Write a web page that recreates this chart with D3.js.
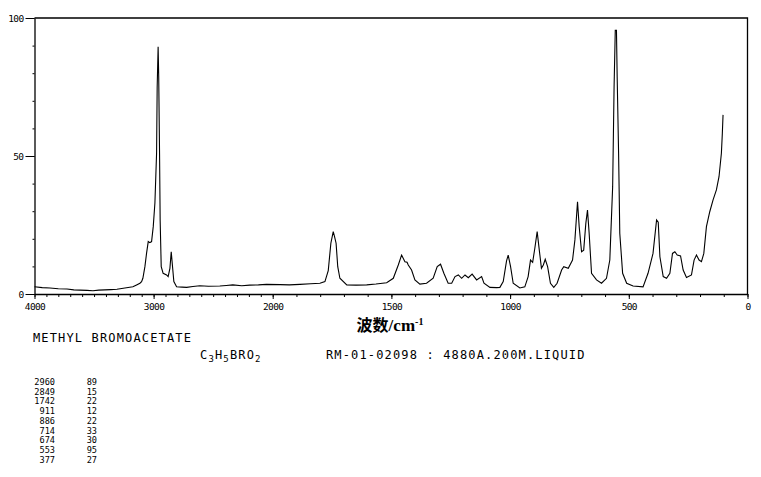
<!DOCTYPE html>
<html><head><meta charset="utf-8">
<script src="https://cdn.jsdelivr.net/npm/d3@7"></script>
<style>
html,body{margin:0;padding:0;background:#fff;}
svg{display:block;}
.mono{font-family:"DejaVu Sans Mono",monospace;fill:#000;}
</style></head>
<body><svg id="c" width="761" height="477"></svg>
<script>
// Spectrum trace (wavenumber cm-1, relative intensity)
const wavenumbers = [4000,3935,3870,3800,3727,3670,3618,3560,3509,3460,3409,3360,3308,3241,3174,3143,3115,3101,3090,3073,3059,3045,3031,3017,3003,2989,2975,2970,2962,2957,2950,2945,2936,2920,2891,2878,2863,2852,2841,2830,2807,2760,2723,2670,2612,2540,2444,2390,2335,2260,2193,2120,2052,
1969,1930,1885,1840,1801,1780,1766,1755,1745,1740,1733,1726,1717,1688,1649,1604,1565,1520,1492,1471,1457,1443,1434,1429,1415,1401,1380,1352,1324,1307,1293,1279,1261,1246,1232,1218,1204,1190,1176,1160,1141,1120,1110,1085,1057,1043,1029,1015,1008,998,987,959,938,924,914,905,896,886,877,868,860,852,842,830,816,802,783,774,755,737,727,716,709,699,690,681,674,667,657,636,615,594,580,568,562,557,552,549,543,538,526,509,482,440,419,398,383,376,369,355,341,327,316,306,296,282,271,257,236,225,215,204,194,184,173,159,145,131,120,110,106,103];
const intensities = [2.6,2.3,2.2,1.9,1.8,1.5,1.4,1.3,1.2,1.4,1.5,1.6,1.7,2.2,2.6,3.3,3.9,4.5,5.7,9.9,14.8,19,18.6,19,24.4,33,51,75,89.6,78.5,51,26.8,9.9,7.5,6.9,6.3,9.3,15.3,9.9,4.5,2.6,2.5,2.4,2.7,3.0,2.8,2.9,3.1,3.3,3.0,3.2,3.3,3.5,
3.4,3.3,3.5,3.7,3.9,4.5,8.5,18.4,22.6,21,18.4,9.9,5.7,3.3,3.2,3.3,3.6,4.1,5.7,10.5,14.1,11.7,11.5,10.5,8.7,5.1,3.6,3.9,5.7,9.9,10.8,7.5,3.9,3.9,6.3,6.9,5.7,6.9,5.9,7.2,5.1,6.3,3.9,2.4,2.3,2.4,4.5,12,14.1,9.9,3.9,2.2,2.6,6.3,12.3,11.5,16.5,22.6,15.9,9.3,10.5,12.6,9.9,3.9,2.4,3.9,8.7,9.9,9.3,12.3,19.6,33.4,24.4,15.3,15.9,25.6,30.4,22,7.5,5.1,3.9,5.7,12.3,38.9,75,95.5,95.5,78.7,51,22,7.5,3.9,2.9,2.6,7.5,14.7,26.8,26,13.5,6.3,5.7,7.5,14.7,15.3,14.1,13.8,8.7,6.0,6.9,12.3,14.1,12.3,11.7,14.7,24.4,29.8,34.1,37.7,42.5,51,58.2,64.9];

// Axis ticks and labels
const xMajorTicks = [4000,3000,2000,1500,1000,500,0];
const xMajorLabels = ["4000","3000","2000","1500","1000","500","0"];
const xMinorTicks = d3.range(0,4001,100);
const yMajorTicks = [0,50,100];
const yMajorLabels = ["0","50","100"];
const yMinorTicks = d3.range(0,101,10);

// Header text and peak table
const compoundName = "METHYL BROMOACETATE";
const sampleInfo = "RM-01-02098 : 4880A.200M.LIQUID";
const peakWavenumbers = ["2960","2849","1742","911","886","714","674","553","377"];
const peakIntensities = ["89","15","22","12","22","33","30","95","27"];

const svg = d3.select("#c");
const x = d3.scaleLinear().domain([4000,2000,0]).range([34.5,272.7,747.5]);
const y = d3.scaleLinear().domain([0,100]).range([294,18]);

// frame
svg.append("path")
  .attr("d",`M${x(4000)},${y(100)}H${x(0)}V${y(0)}`)
  .attr("fill","none").attr("stroke","#000").attr("stroke-width",1.3);

// bottom axis: minor ticks
svg.append("g").attr("transform",`translate(0,${y(0)})`)
  .call(d3.axisBottom(x).tickValues(xMinorTicks).tickSize(3).tickSizeOuter(0).tickFormat(""))
  .call(g=>g.select(".domain").attr("stroke-width",1.3));
// bottom axis: major ticks + labels
const xa = svg.append("g").attr("transform",`translate(0,${y(0)})`)
  .call(d3.axisBottom(x).tickValues(xMajorTicks).tickSize(5).tickSizeOuter(0)
    .tickFormat((d,i)=>xMajorLabels[i]).tickPadding(4));
xa.select(".domain").remove();
xa.selectAll("text").attr("class","mono").style("font-size","9.5px").attr("font-family",null).attr("letter-spacing","-0.6");

// left axis
svg.append("g").attr("transform",`translate(${x(4000)},0)`)
  .call(d3.axisLeft(y).tickValues(yMinorTicks).tickSize(2).tickSizeOuter(0).tickFormat(""))
  .call(g=>g.select(".domain").attr("stroke-width",1.3));
const ya = svg.append("g").attr("transform",`translate(${x(4000)},0)`)
  .call(d3.axisLeft(y).tickValues(yMajorTicks).tickSize(9).tickSizeOuter(0)
    .tickFormat((d,i)=>yMajorLabels[i]).tickPadding(2));
ya.select(".domain").remove();
ya.selectAll("text").attr("class","mono").style("font-size","9.5px").attr("font-family",null).attr("letter-spacing","-0.6");

// spectrum
const pts = wavenumbers.map((w,i)=>[w,intensities[i]]);
svg.append("path").datum(pts)
  .attr("d",d3.line().x(d=>x(d[0])).y(d=>y(d[1])))
  .attr("fill","none").attr("stroke","#000").attr("stroke-width",1.1);

// x axis title
const xt = svg.append("text").attr("x",390).attr("y",331).attr("text-anchor","middle").attr("font-weight","bold");
xt.append("tspan").attr("font-family","'Noto Sans CJK SC'").attr("font-size","16px").text("波数");
xt.append("tspan").attr("font-family","'Liberation Serif'").attr("font-size","17px").text("/cm");
xt.append("tspan").attr("font-family","'Liberation Serif'").attr("font-size","10px").attr("dy","-6").text("-1");

// header lines
svg.append("text").attr("class","mono").attr("x",33).attr("y",342).style("font-size","12px").attr("letter-spacing","1.15").text(compoundName);
const f = svg.append("text").attr("class","mono").attr("x",200).attr("y",359).style("font-size","12px").attr("letter-spacing","1.15");
[["C",0],["3",1],["H",0],["5",1],["BRO",0],["2",1]].forEach(([t,s])=>{
  f.append("tspan").text(t).style("font-size",s?"9px":"12px").attr("dy",s?3:null)
   .attr("baseline-shift",null);
});
// reset dy after subscripts: handled by relative dy
f.selectAll("tspan").each(function(d,i){
  const t=d3.select(this); const sub=["3","5","2"].includes(t.text()) && i%2===1;
  t.attr("dy", sub?3:(i>0?-3:null));
});
svg.append("text").attr("class","mono").attr("x",326).attr("y",359).style("font-size","12px").attr("letter-spacing","1.15").text(sampleInfo);

// peak table
const tbl = svg.append("g");
peakWavenumbers.forEach((w,i)=>{
  tbl.append("text").attr("class","mono").attr("x",55).attr("y",385+i*9.7).attr("text-anchor","end").style("font-size","8.6px").text(w);
  tbl.append("text").attr("class","mono").attr("x",97).attr("y",385+i*9.7).attr("text-anchor","end").style("font-size","8.6px").text(peakIntensities[i]);
});
</script></body></html>
